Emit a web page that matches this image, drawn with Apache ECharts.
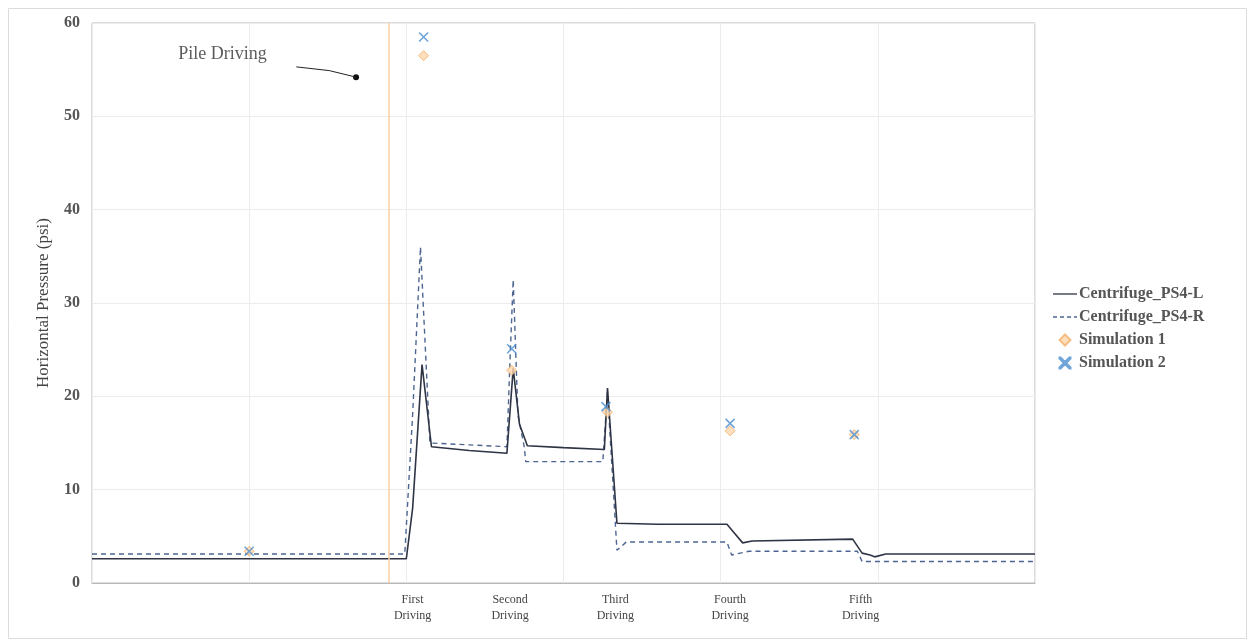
<!DOCTYPE html>
<html><head><meta charset="utf-8">
<script src="https://cdn.jsdelivr.net/npm/echarts@6/dist/echarts.min.js"></script>
<style>html,body{margin:0;padding:0;background:#fff}#c{width:1251px;height:642px}</style>
</head><body><div id="c"></div>
<script>
// ---- data ----
const ps4L = [[0,2.6],[2.0,2.6],[2.04,8],[2.10,23.4],[2.16,14.6],[2.40,14.2],[2.64,13.9],[2.68,23.0],[2.72,17],[2.77,14.7],[3.0,14.5],[3.26,14.3],[3.28,20.9],[3.34,6.4],[3.6,6.3],[4.04,6.3],[4.08,5.5],[4.14,4.3],[4.20,4.5],[4.84,4.7],[4.90,3.2],[4.95,3.0],[4.98,2.8],[5.05,3.1],[6.0,3.1]];
const ps4R = [[0,3.1],[1.99,3.1],[2.04,18],[2.09,36.0],[2.15,15.0],[2.40,14.8],[2.64,14.6],[2.66,24],[2.68,32.5],[2.71,18],[2.75,14.6],[2.76,13.0],[3.25,13.0],[3.28,20.5],[3.34,3.5],[3.40,4.4],[4.04,4.4],[4.07,3.0],[4.18,3.4],[4.87,3.4],[4.90,2.3],[6.0,2.3]];
const sim1 = [[1.0,3.4],[2.11,56.5],[2.67,22.8],[3.28,18.3],[4.06,16.3],[4.85,15.9]];
const sim2 = [[1.0,3.4],[2.11,58.5],[2.67,25.1],[3.27,18.9],[4.06,17.1],[4.85,15.9]];
const drivingPos = [2.04,2.66,3.33,4.06,4.89];
const drivingLabels = ['First\nDriving','Second\nDriving','Third\nDriving','Fourth\nDriving','Fifth\nDriving'];
const pileLineX = 1.89;
const pileText = 'Pile Driving';
const pileTextPos = [0.83,56.6];
const pileArrow = [[1.30,55.3],[1.51,54.9],[1.68,54.2]];
const yTicks = [0,10,20,30,40,50,60];

const serif = '"Liberation Serif","DejaVu Serif",serif';
const chart = echarts.init(document.getElementById('c'));
chart.setOption({
  animation:false,
  backgroundColor:'#fff',
  graphic:[{type:'rect',left:6,top:6,shape:{width:1238,height:630},style:{fill:'none',stroke:'#dcdcdc',lineWidth:1},silent:true}],
  grid:{left:92,top:23,width:943,height:560,show:true,borderColor:'#b8b8b8',borderWidth:1,backgroundColor:'transparent'},
  legend:{
    orient:'vertical',left:1048,top:281,itemGap:7,itemWidth:24,itemHeight:11,
    textStyle:{fontFamily:serif,fontSize:16,fontWeight:'bold',color:'#555',padding:[0,0,0,-3]},
    data:[
      {name:'Centrifuge_PS4-L',icon:'path://M0,0L24,0L24,1.3L0,1.3Z'},
      {name:'Centrifuge_PS4-R',icon:'path://M0,0h4v1.3h-4zM7,0h4v1.3h-4zM14,0h4v1.3h-4zM21,0h3v1.3h-3z'},
      {name:'Simulation 1',icon:'path://M5,0L10,5L5,10L0,5Z'},
      {name:'Simulation 2',icon:'path://M0,0L1,0L5,4L9,0L10,0L10,1L6,5L10,9L10,10L9,10L5,6L1,10L0,10L0,9L4,5L0,1Z'}
    ]
  },
  xAxis:[{
    type:'value',min:0,max:6,interval:1,
    axisLine:{show:true,lineStyle:{color:'#b8b8b8'}},axisTick:{show:false},axisLabel:{show:false},
    splitLine:{show:true,lineStyle:{color:'#ececec'}}
  },{
    type:'value',min:0,max:6,position:'bottom',
    axisLine:{show:false},axisTick:{show:false},splitLine:{show:false},
    axisLabel:{show:true,customValues:drivingPos,margin:9,
      formatter:v=>{const i=drivingPos.findIndex(p=>Math.abs(p-v)<1e-6);return i>=0?drivingLabels[i]:'';},
      fontFamily:serif,fontSize:12,color:'#444',lineHeight:16,align:'center'}
  }],
  yAxis:{
    type:'value',min:0,max:60,interval:10,
    name:'Horizontal Pressure (psi)',nameLocation:'middle',nameGap:40,
    nameTextStyle:{fontFamily:serif,fontSize:17,color:'#444'},
    axisLine:{show:false},axisTick:{show:false},
    axisLabel:{fontFamily:serif,fontSize:16,fontWeight:'bold',color:'#555',margin:12,
      formatter:v=>yTicks.includes(v)?String(v):''},
    splitLine:{show:true,lineStyle:{color:'#ececec'}}
  },
  series:[
    {name:'Centrifuge_PS4-L',type:'line',data:ps4L,showSymbol:false,symbol:'none',
      lineStyle:{color:'#2e3444',width:1.6},itemStyle:{color:'#2e3444'},z:4,
      markLine:{silent:true,symbol:['none','none'],label:{show:false},
        lineStyle:{color:'#f8d0a0',type:'solid',width:1.5},data:[{xAxis:pileLineX}]}},
    {name:'Centrifuge_PS4-R',type:'line',data:ps4R,showSymbol:false,symbol:'none',
      lineStyle:{color:'#4d6591',width:1.4,type:[5,4]},itemStyle:{color:'#4d6591'},z:3},
    {name:'Simulation 1',type:'scatter',data:sim1,symbol:'diamond',symbolSize:10,
      itemStyle:{color:'#fcd7ad',borderColor:'#f3b06a',borderWidth:1},z:5},
    {name:'Simulation 2',type:'scatter',data:sim2,symbol:'path://M0,0L10,10M10,0L0,10',symbolSize:9,
      itemStyle:{color:'none',borderColor:'#4b8fd0',borderWidth:1.6},z:6},
    {name:'annotation',type:'line',data:pileArrow,symbol:['none'],showSymbol:false,
      lineStyle:{color:'#222',width:1},z:7,
      markPoint:{symbol:'circle',symbolSize:6,itemStyle:{color:'#111'},label:{show:false},
        data:[{coord:pileArrow[pileArrow.length-1]}]}},
    {name:'annotationText',type:'scatter',data:[pileTextPos],symbolSize:0,
      label:{show:true,position:'inside',formatter:pileText,fontFamily:serif,fontSize:18,color:'#333'},z:7}
  ]
});
</script></body></html>
